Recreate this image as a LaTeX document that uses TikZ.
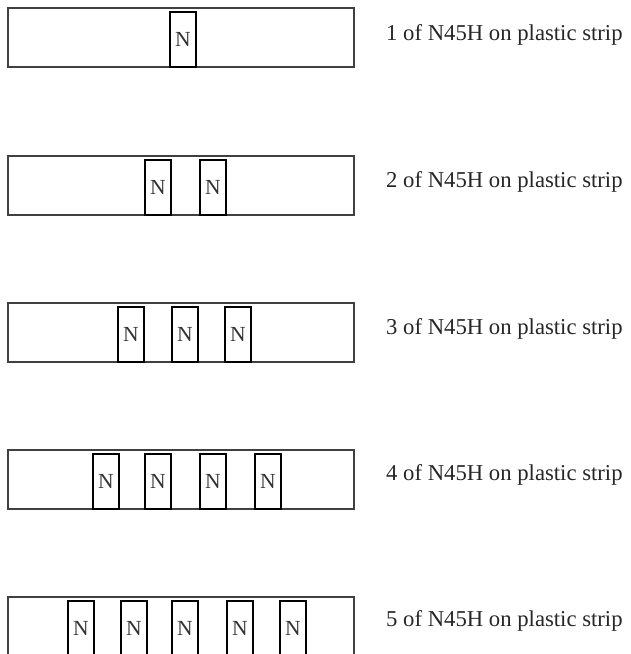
\documentclass[tikz,border=0pt]{standalone}
\usepackage{fontspec}
\setmainfont{Liberation Serif}
\begin{document}
\begin{tikzpicture}[x=1pt,y=-1pt,
  strip/.style={draw=black!75, line width=1.2pt, minimum width=346pt,
    minimum height=59pt, inner sep=0pt},
  magnet/.style={draw=black, line width=2.8pt, minimum width=26pt,
    minimum height=55pt, inner sep=0pt, anchor=north west,
    font=\fontsize{21.5}{25}\selectfont, text=black!80},
  caption/.style={anchor=base west, inner sep=0pt,
    font=\fontsize{22.7}{27}\selectfont, text=black!85}]
  \useasboundingbox (0,0) rectangle (631,654);
  % strip index / top edge / caption baseline / left edges of the magnets
  \foreach \k/\top/\base/\lefts in {1/8/40/{168},
                                    2/156/187/{143,198},
                                    3/303/334/{116,170,223},
                                    4/450/480/{91,143,198,253},
                                    5/597/626/{66,119,170,225,278}} {
    \node[strip] (s\k) at (181,\top+29.5) {};
    \foreach \l [count=\i] in \lefts {
      \node[magnet] (m\k\i) at (\l+0.5,\top+2.5) {N};
    }
    \node[caption] (c\k) at (386,\base) {\k{} of N45H on plastic strip};
  }
\end{tikzpicture}
\end{document}
